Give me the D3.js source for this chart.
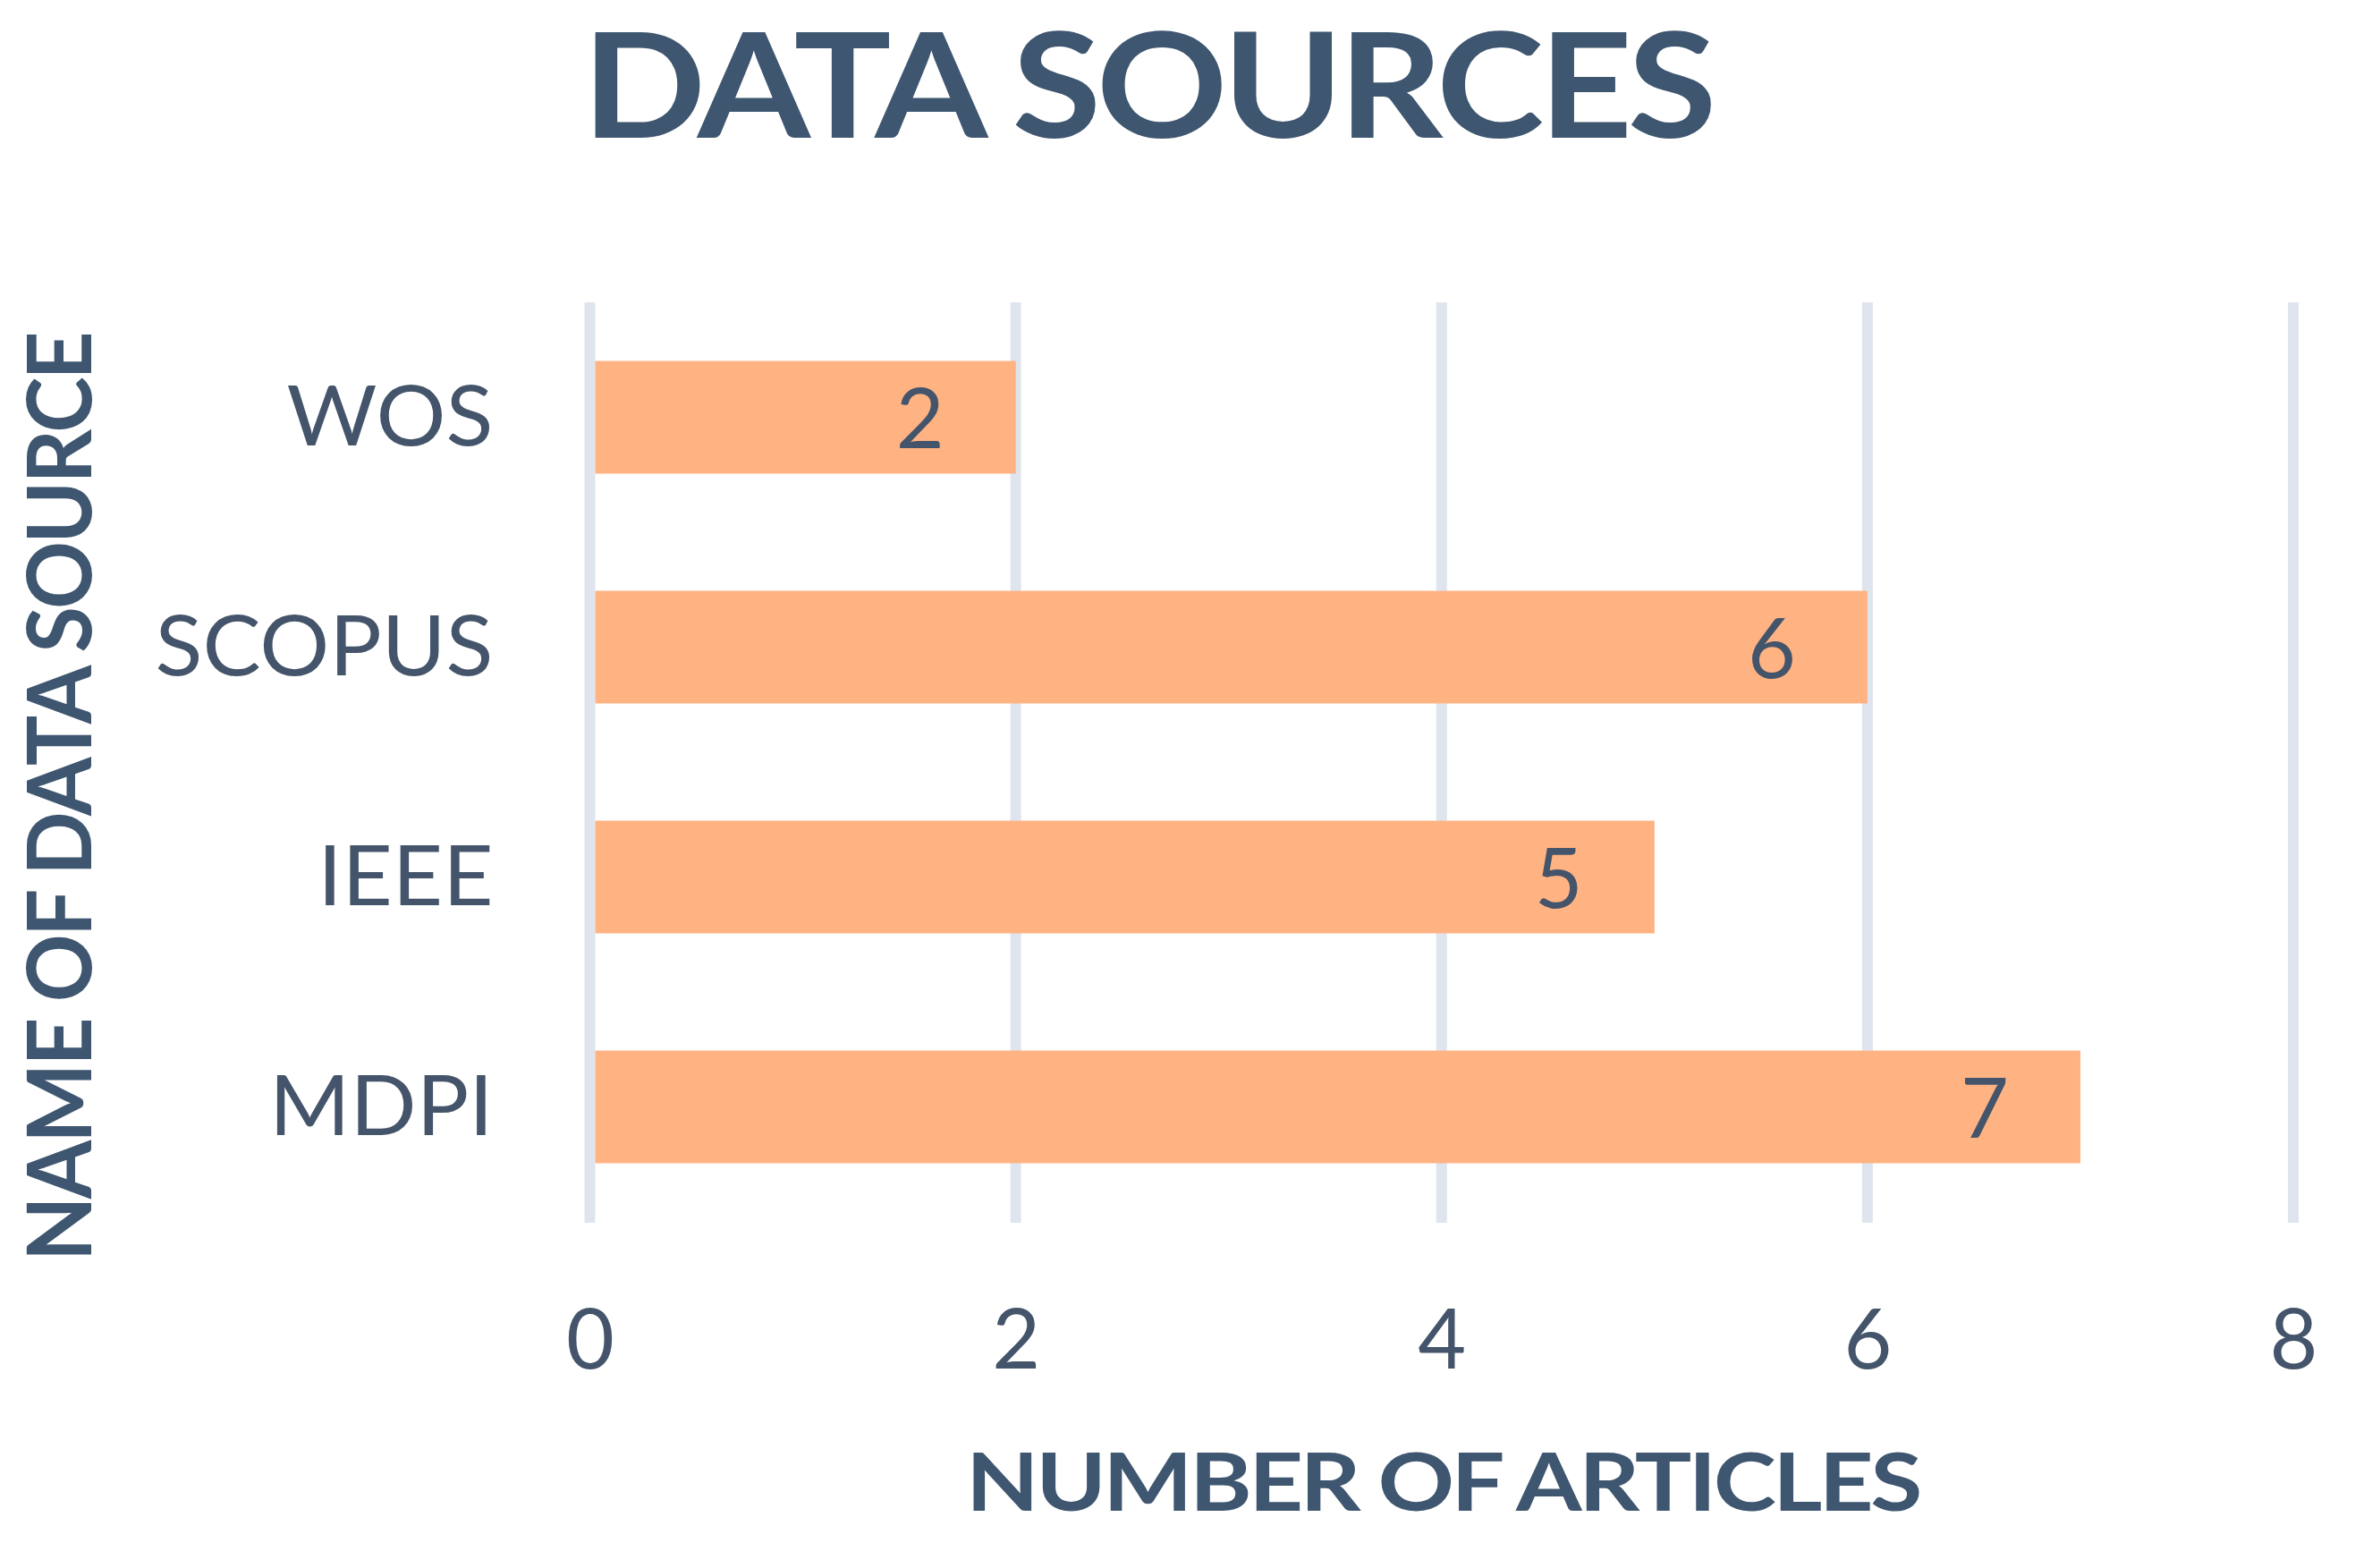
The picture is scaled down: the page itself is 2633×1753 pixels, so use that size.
<!DOCTYPE html>
<html>
<head>
<meta charset="utf-8">
<script src="https://cdn.jsdelivr.net/npm/d3@7"></script>
<style>
  html, body { margin: 0; padding: 0; background: #ffffff; }
  svg { display: block; }
</style>
</head>
<body>
<script>
// ---- data ----
const categories = ["WOS", "SCOPUS", "IEEE", "MDPI"];
const values = [2, 6, 5, 7];
const xTicks = [0, 2, 4, 6, 8];
const chartTitle = "DATA SOURCES";
const xTitle = "NUMBER OF ARTICLES";
const yTitle = "NAME OF DATA SOURCE";

(function () {
// ---- layout ----
const W = 2633, H = 1753;
const plotLeft = 659.5, plotRight = 2564, plotTop = 338, plotBottom = 1366;
const textColor = "#44546A";
const titleColor = "#3F5670";
const barColor = "#FFB282";
const gridColor = "#DFE5EE";
const font = "Lato, 'Open Sans', sans-serif";

const svg = d3.select("body").append("svg")
  .attr("width", W).attr("height", H)
  .style("background", "#ffffff");

const x = d3.scaleLinear().domain([0, 8]).range([plotLeft, plotRight]);
const y = d3.scaleBand().domain(categories).range([plotTop, plotBottom])
  .paddingInner(0.51).paddingOuter(0.255);

// gridlines
svg.append("g").selectAll("line").data(xTicks).join("line")
  .attr("x1", d => x(d)).attr("x2", d => x(d))
  .attr("y1", plotTop).attr("y2", plotBottom + 1)
  .attr("stroke", gridColor).attr("stroke-width", 12);

// bars
svg.append("g").selectAll("rect").data(categories).join("rect")
  .attr("x", x(0) + 6)
  .attr("y", d => y(d))
  .attr("width", (d, i) => x(values[i]) - x(0) - 6)
  .attr("height", y.bandwidth())
  .attr("fill", barColor);

// data labels
svg.append("g").selectAll("text").data(categories).join("text")
  .attr("x", (d, i) => x(values[i]) - 80)
  .attr("y", d => y(d) + y.bandwidth() / 2 + 34)
  .attr("text-anchor", "end")
  .attr("font-family", font)
  .attr("font-size", 93)
  .attr("fill", textColor)
  .text((d, i) => values[i]);

// y axis (category labels)
const yAxis = svg.append("g")
  .attr("transform", `translate(${x(0)},0)`)
  .call(d3.axisLeft(y).tickSize(0).tickPadding(0));
yAxis.select(".domain").remove();
const catText = yAxis.selectAll(".tick text")
  .attr("x", 0)
  .attr("font-family", font)
  .attr("font-size", 93)
  .attr("dy", "0.34em")
  .attr("fill", textColor);
// horizontal stretch so that the widest label matches the reference
let maxW = 0;
catText.each(function () { maxW = Math.max(maxW, this.getComputedTextLength()); });
const catScale = 378 / maxW;
catText.attr("transform", `translate(-108,0) scale(${catScale},1)`);

// x axis (tick labels)
const xAxis = svg.append("g")
  .attr("transform", `translate(0,${plotBottom})`)
  .call(d3.axisBottom(x).tickValues(xTicks).tickFormat(d3.format("d")).tickSize(0).tickPadding(98));
xAxis.select(".domain").remove();
xAxis.selectAll("text")
  .attr("font-family", font)
  .attr("font-size", 93)
  .attr("fill", textColor);

// helper: scale a text horizontally to a target width
function fitText(sel, tx, ty, target, rotate) {
  const w = sel.node().getComputedTextLength();
  const s = target / w;
  sel.attr("transform", `translate(${tx},${ty})${rotate ? " rotate(-90)" : ""} scale(${s},1)`);
}

// chart title
const t1 = svg.append("text")
  .attr("x", 0).attr("y", 0)
  .attr("font-family", font)
  .attr("font-weight", 700)
  .attr("font-size", 163)
  .attr("letter-spacing", -5)
  .attr("fill", titleColor)
  .text(chartTitle);
fitText(t1, 651, 154, 1263, false);

// x axis title
const t2 = svg.append("text")
  .attr("x", 0).attr("y", 0)
  .attr("font-family", font)
  .attr("font-weight", 700)
  .attr("font-size", 90)
  .attr("letter-spacing", -3)
  .attr("fill", titleColor)
  .text(xTitle);
fitText(t2, 1080, 1689, 1066, false);

// y axis title
const t3 = svg.append("text")
  .attr("x", 0).attr("y", 0)
  .attr("font-family", font)
  .attr("font-weight", 700)
  .attr("font-size", 100)
  .attr("letter-spacing", -3)
  .attr("fill", titleColor)
  .text(yTitle);
fitText(t3, 102, 1410, 1037, true);
})();
</script>
</body>
</html>
